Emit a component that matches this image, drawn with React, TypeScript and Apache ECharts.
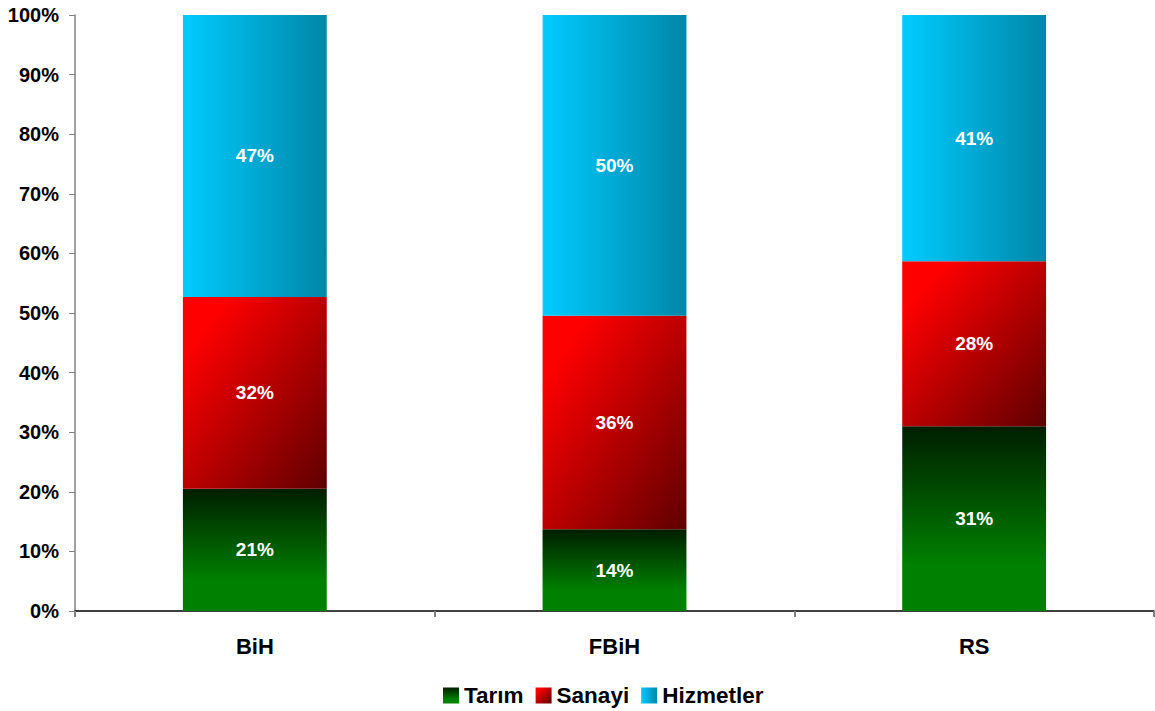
import React, { useEffect, useRef } from "react";
import * as echarts from "echarts";

const categories = ["BiH", "FBiH", "RS"];
const tarim = [20.5, 13.7, 31.0];
const sanayi = [32.2, 35.8, 27.7];
const hizmetler = [47.3, 50.4, 41.3];
const seriesNames = ["Tarım", "Sanayi", "Hizmetler"];

const FONT = "'Liberation Sans', Arial, sans-serif";

export default function App() {
  const ref = useRef<HTMLDivElement>(null);
  useEffect(() => {
    if (!ref.current) return;
    const chart = echarts.init(ref.current, undefined, { renderer: "svg" });
    const totals = categories.map((_, i) => tarim[i] + sanayi[i] + hizmetler[i]);
    const norm = (arr: number[]) => arr.map((v, i) => (v / totals[i]) * 100);

    const green = new echarts.graphic.LinearGradient(0, 0, 0, 1, [
      { offset: 0, color: "#001E00" },
      { offset: 0.75, color: "#008000" },
      { offset: 1, color: "#008000" },
    ]);
    const red = new echarts.graphic.LinearGradient(0, 0, 1, 1, [
      { offset: 0, color: "#FF0000" },
      { offset: 0.15, color: "#FF0000" },
      { offset: 1, color: "#5E0000" },
    ]);
    const blue = new echarts.graphic.LinearGradient(0, 0, 1, 0, [
      { offset: 0, color: "#00CCFF" },
      { offset: 1, color: "#0086A8" },
    ]);
    const colors = [green, red, blue];
    const raw = [tarim, sanayi, hizmetler];

    chart.setOption({
      animation: false,
      textStyle: { fontFamily: FONT },
      grid: { left: 75, right: 1, top: 15, bottom: 100 },
      legend: {
        data: seriesNames,
        left: 438,
        top: 679,
        itemWidth: 16,
        itemHeight: 16,
        itemGap: 12,
        icon: "rect",
        textStyle: { fontFamily: FONT, fontWeight: "bold", fontSize: 22.5, color: "#000" },
      },
      xAxis: {
        type: "category",
        data: categories,
        axisLine: { lineStyle: { color: "#000", width: 1.5 } },
        axisTick: { show: true, length: 6, lineStyle: { color: "#808080", width: 2 } },
        axisLabel: { fontFamily: FONT, fontWeight: "bold", fontSize: 22, color: "#000", margin: 24 },
      },
      yAxis: {
        type: "value",
        min: 0,
        max: 100,
        interval: 10,
        splitLine: { show: false },
        axisLine: { show: true, lineStyle: { color: "#808080", width: 1.5 } },
        axisTick: { show: true, length: 6, lineStyle: { color: "#808080", width: 1 } },
        axisLabel: {
          fontFamily: FONT,
          fontWeight: "bold",
          fontSize: 20,
          color: "#000",
          margin: 16,
          formatter: (v: number) => v + "%",
        },
      },
      series: seriesNames.map((name, s) => ({
        name,
        type: "bar",
        stack: "total",
        barWidth: "40%",
        itemStyle: { color: colors[s] },
        label: {
          show: true,
          position: "inside",
          fontFamily: FONT,
          fontWeight: "bold",
          fontSize: 19,
          color: "#fff",
          formatter: (p: any) => Math.round(raw[s][p.dataIndex]) + "%",
        },
        data: norm(raw[s]),
      })),
    });
    return () => chart.dispose();
  }, []);
  return <div ref={ref} style={{ width: 1155, height: 711, position: "absolute", left: 0, top: 0 }} />;
}
